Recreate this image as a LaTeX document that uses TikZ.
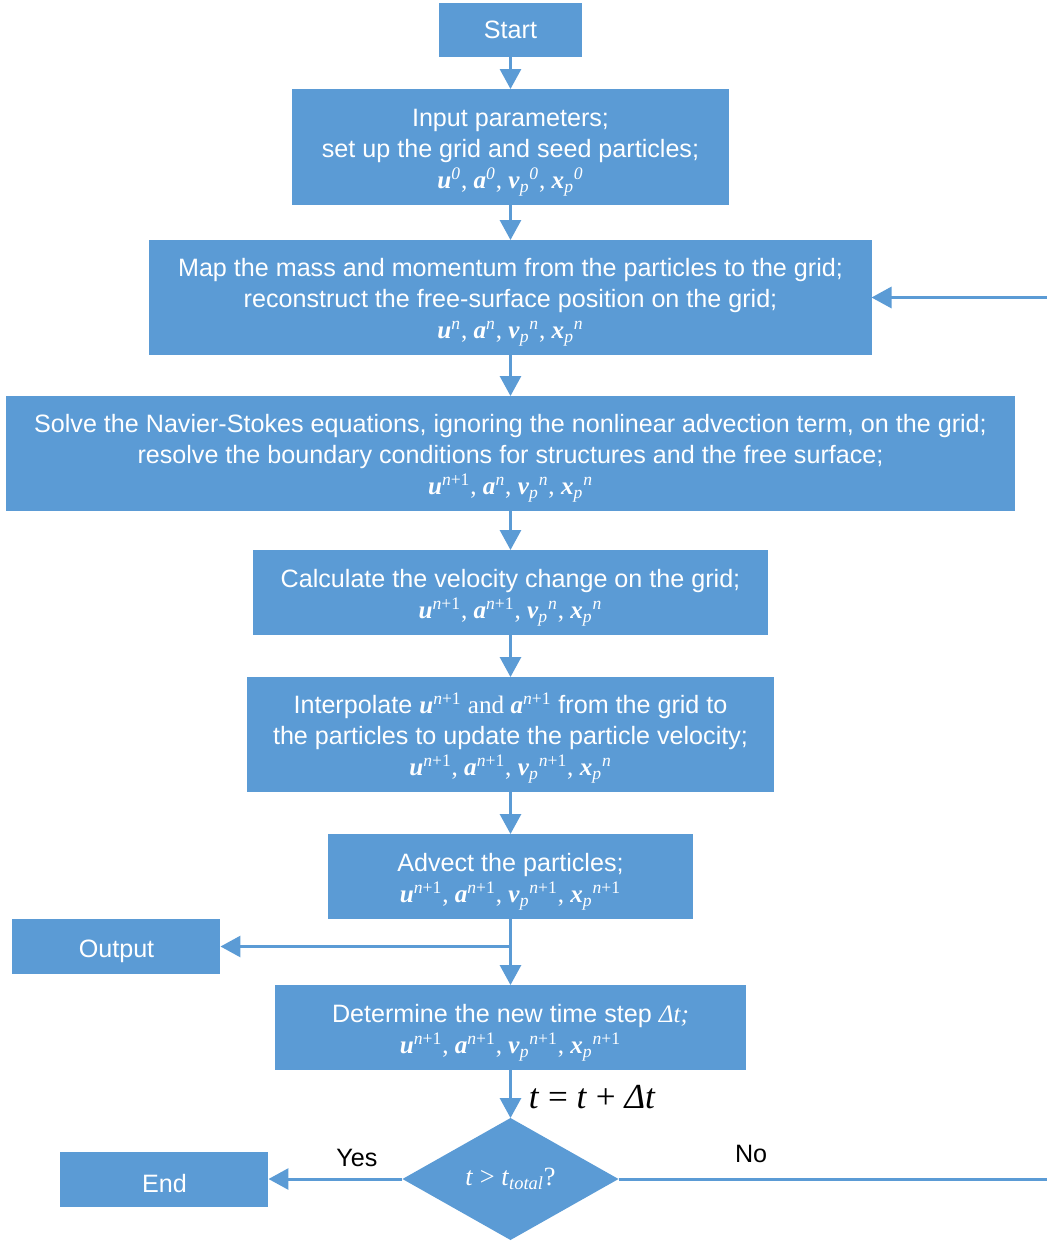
\documentclass[tikz,border=0pt]{standalone}
\usepackage{fontspec}
\setmainfont{Liberation Sans}
\newfontfamily\tnr{Liberation Serif}
\usepackage{xcolor}
\usetikzlibrary{arrows.meta,positioning,shapes.geometric}

\definecolor{boxblue}{HTML}{5B9BD5}

% bold italic vectors, grid and particle quantities
\newcommand{\vb}[1]{\textbf{\textit{#1}}}
\newcommand{\gq}[2]{\vb{#1}\textsuperscript{#2}}
\newcommand{\pq}[2]{\vb{#1}\textsubscript{\textit{p}}\textsuperscript{#2}}
\newcommand{\nn}{\textit{n}}
\newcommand{\np}{\textit{n}+1}
\newcommand{\topgap}{\rule{0pt}{16pt}}

\begin{document}
\begin{tikzpicture}[
  font=\fontsize{14.3}{17.6}\selectfont,
  box/.style={rectangle, fill=boxblue, text=white, align=center, inner sep=0pt, outer sep=0pt},
  test/.style={diamond, fill=boxblue, text=white, aspect=1.77, inner sep=0pt, outer sep=0pt,
    minimum width=4.32cm, minimum height=2.44cm},
  arr/.style={-{Triangle[length=0.4cm, width=0.42cm]}, draw=boxblue, line width=1.7pt}
]
  \useasboundingbox (-10.21,0.6) rectangle (10.73,-24.22);

  \node[box, minimum width=2.86cm, minimum height=1.08cm] (start) at (0,0) {Start};
  \node[box, minimum width=8.72cm, minimum height=2.32cm, below=0.64cm of start] (input)
    {\topgap Input parameters;\\ set up the grid and seed particles;\\
     {\tnr\gq{u}{\textit{0}}, \gq{a}{\textit{0}}, \pq{v}{\textit{0}}, \pq{x}{\textit{0}}}};
  \node[box, minimum width=14.44cm, minimum height=2.3cm, below=0.7cm of input] (map)
    {\topgap Map the mass and momentum from the particles to the grid;\\
     reconstruct the free-surface position on the grid;\\
     {\tnr\gq{u}{\nn}, \gq{a}{\nn}, \pq{v}{\nn}, \pq{x}{\nn}}};
  \node[box, minimum width=20.18cm, minimum height=2.3cm, below=0.82cm of map] (solve)
    {\topgap Solve the Navier-Stokes equations, ignoring the nonlinear advection term, on the grid;\\
     resolve the boundary conditions for structures and the free surface;\\
     {\tnr\gq{u}{\np}, \gq{a}{\nn}, \pq{v}{\nn}, \pq{x}{\nn}}};
  \node[box, minimum width=10.28cm, minimum height=1.7cm, below=0.78cm of solve] (calc)
    {\topgap Calculate the velocity change on the grid;\\
     {\tnr\gq{u}{\np}, \gq{a}{\np}, \pq{v}{\nn}, \pq{x}{\nn}}};
  \node[box, minimum width=10.52cm, minimum height=2.3cm, below=0.84cm of calc] (interp)
    {\topgap Interpolate {\tnr\gq{u}{\np} and \gq{a}{\np}} from the grid to\\
     the particles to update the particle velocity;\\
     {\tnr\gq{u}{\np}, \gq{a}{\np}, \pq{v}{\np}, \pq{x}{\nn}}};
  \node[box, minimum width=7.28cm, minimum height=1.7cm, below=0.84cm of interp] (advect)
    {\topgap Advect the particles;\\
     {\tnr\gq{u}{\np}, \gq{a}{\np}, \pq{v}{\np}, \pq{x}{\np}}};
  \node[box, minimum width=4.16cm, minimum height=1.1cm, anchor=north east,
    below left=0cm and 2.16cm of advect.south west] (output) {\topgap Output};
  \node[box, minimum width=9.42cm, minimum height=1.7cm, below=1.32cm of advect] (step)
    {\topgap Determine the new time step {\tnr\textit{Δt;}}\\
     {\tnr\gq{u}{\np}, \gq{a}{\np}, \pq{v}{\np}, \pq{x}{\np}}};
  \node[test, below=0.96cm of step] (check)
    {\tnr\fontsize{15}{18}\selectfont\textit{t} > \textit{t}\textsubscript{\textit{total}}?};
  \node[box, minimum width=4.16cm, minimum height=1.1cm, left=2.68cm of check] (end) {\topgap End};

  \coordinate (split) at (advect.south |- output.east);
  \coordinate (back) at (11,0);

  \draw[arr] (start) -- (input);
  \draw[arr] (input) -- (map);
  \draw[arr] (map) -- (solve);
  \draw[arr] (solve) -- (calc);
  \draw[arr] (calc) -- (interp);
  \draw[arr] (interp) -- (advect);
  \draw[arr] (advect) -- (step);
  \draw[arr] (split) -- (output);
  \draw[arr] (step) -- node[right=0.22cm, yshift=-0.07cm, text=black, font=\tnr\fontsize{20}{24}\selectfont]
    {\textit{t} = \textit{t} + \textit{Δt}} (check);
  \draw[arr] (check) -- node[above=3pt, pos=0.34] {Yes} (end);
  \draw[arr] (check.east) -- node[above=5pt, pos=0.3] {No} (check.east -| back)
    |- (map.east);
\end{tikzpicture}
\end{document}
